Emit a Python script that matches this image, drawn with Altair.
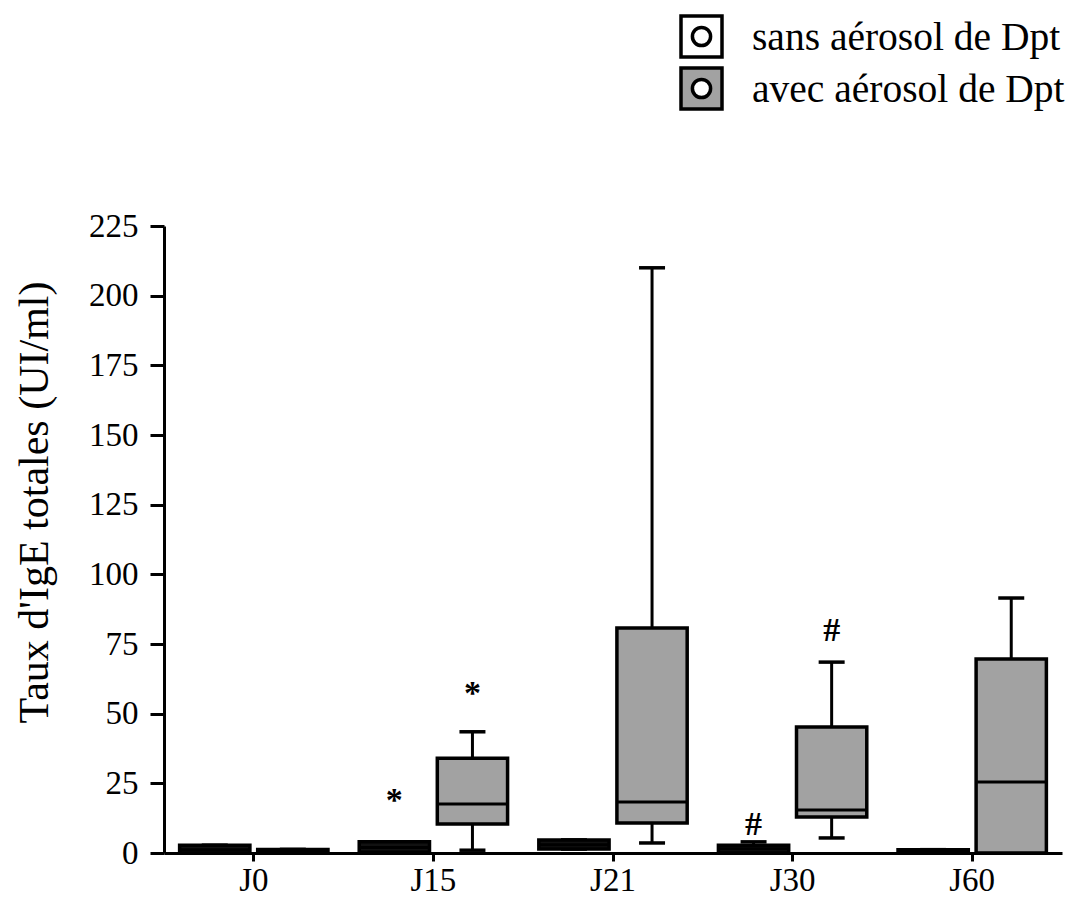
import altair as alt
import pandas as pd

times = ["J0", "J15", "J21", "J30", "J60"]
groups = ["sans aérosol de Dpt", "avec aérosol de Dpt"]

# box statistics per group (min, q1, median, q3, max)
sans_min = [0.0, 0.0, 1.4, 0.0, 0.0]
sans_q1 = [0.0, 0.3, 1.4, 0.0, 0.0]
sans_med = [1.2, 2.0, 3.0, 1.5, 0.5]
sans_q3 = [2.8, 4.0, 4.7, 2.8, 1.2]
sans_max = [2.8, 4.0, 4.7, 4.0, 1.2]

avec_min = [0.0, 1.0, 3.6, 5.4, 0.0]
avec_q1 = [0.0, 10.4, 10.8, 12.9, 0.0]
avec_med = [0.5, 17.6, 18.3, 15.4, 25.5]
avec_q3 = [1.3, 34.0, 80.7, 45.2, 69.6]
avec_max = [1.3, 43.5, 210.0, 68.5, 91.5]

# significance marks
ann_time = ["J15", "J15", "J30", "J30"]
ann_group = [groups[0], groups[1], groups[0], groups[1]]
ann_value = [18.5, 57.0, 10.0, 79.5]
ann_text = ["*", "*", "#", "#"]

rows = []
for i, t in enumerate(times):
    rows.append(dict(time=t, group=groups[0], mn=sans_min[i], q1=sans_q1[i],
                     med=sans_med[i], q3=sans_q3[i], mx=sans_max[i]))
    rows.append(dict(time=t, group=groups[1], mn=avec_min[i], q1=avec_q1[i],
                     med=avec_med[i], q3=avec_q3[i], mx=avec_max[i]))
df = pd.DataFrame(rows)
ann = pd.DataFrame(dict(time=ann_time, group=ann_group, v=ann_value, txt=ann_text))

FONT = "Liberation Serif"
GREY = "#a2a2a2"
W, H = 898, 627

x = alt.X("time:N", scale=alt.Scale(domain=times, paddingInner=0, paddingOuter=0),
          axis=alt.Axis(title=None, labelAngle=0, tickSize=8, labelPadding=3,
                        labelFontSize=33, labelFont=FONT, labelColor="black",
                        domainWidth=3, tickWidth=3, domainColor="black", tickColor="black"))
xo = alt.XOffset("group:N", scale=alt.Scale(domain=groups, paddingInner=0.10, paddingOuter=0.2))
y_scale = alt.Scale(domain=[0, 225], nice=False, zero=True)
y = alt.Y("mn:Q", scale=y_scale,
          axis=alt.Axis(title="Taux d'IgE totales (UI/ml)", values=list(range(0, 226, 25)),
                        tickSize=14, labelPadding=12, labelFontSize=33, labelFont=FONT,
                        labelColor="black", titleFont=FONT, titleFontSize=42,
                        titleFontWeight="normal", titleColor="black", titlePadding=32,
                        titleY=276,
                        domainWidth=3, tickWidth=3, domainColor="black", tickColor="black",
                        grid=False))

base = alt.Chart(df)
whisker = base.mark_rule(color="black", strokeWidth=3).encode(x=x, xOffset=xo, y=y, y2="mx:Q")
cap_top = base.mark_tick(color="black", orient="horizontal", size=26, thickness=3.5,
                         opacity=1).encode(x=x, xOffset=xo, y=alt.Y("mx:Q", scale=y_scale))
cap_bot = base.mark_tick(color="black", orient="horizontal", size=26, thickness=3.5,
                         opacity=1).encode(x=x, xOffset=xo, y=alt.Y("mn:Q", scale=y_scale))
box = base.mark_bar(stroke="black", strokeWidth=3.5, opacity=1).encode(
    x=x, xOffset=xo, y=alt.Y("q1:Q", scale=y_scale), y2="q3:Q",
    fill=alt.Fill("group:N", scale=alt.Scale(domain=groups, range=["#111111", GREY]),
                  legend=None))
median = base.mark_tick(color="black", orient="horizontal", size=68, thickness=3,
                        opacity=1).encode(x=x, xOffset=xo, y=alt.Y("med:Q", scale=y_scale))
marks = alt.Chart(ann).mark_text(font=FONT, fontSize=34, fontWeight="bold", baseline="middle",
                                 color="black").encode(
    x=x, xOffset=xo, y=alt.Y("v:Q", scale=y_scale), text="txt:N")

# manual legend (above the plot area)
legend_layers = []
for i, (g, f) in enumerate(zip(groups, ["white", GREY])):
    d = pd.DataFrame(dict(label=[g]))
    top = -210 + i * 52
    legend_layers.append(alt.Chart(d).mark_rect(stroke="black", strokeWidth=3.5, fill=f).encode(
        x=alt.value(517), x2=alt.value(558), y=alt.value(top), y2=alt.value(top + 41)))
    legend_layers.append(alt.Chart(d).mark_point(shape="circle", filled=True, fill="white",
                                                 stroke="black", strokeWidth=3.5, size=330,
                                                 opacity=1).encode(
        x=alt.value(537.5), y=alt.value(top + 20.5)))
    legend_layers.append(alt.Chart(d).mark_text(font=FONT, fontSize=39.5, align="left",
                                                baseline="middle", color="black").encode(
        x=alt.value(588), y=alt.value(top + 22), text="label:N"))

chart = alt.layer(whisker, cap_top, cap_bot, box, median, marks, *legend_layers).properties(
    width=W, height=H,
    autosize=alt.AutoSizeParams(type="none"),
    padding={"left": 164, "top": 226, "right": 6, "bottom": 46},
    background="white",
).configure_view(stroke=None)

chart.save("out.html", embed_options={"renderer": "svg", "actions": False})
